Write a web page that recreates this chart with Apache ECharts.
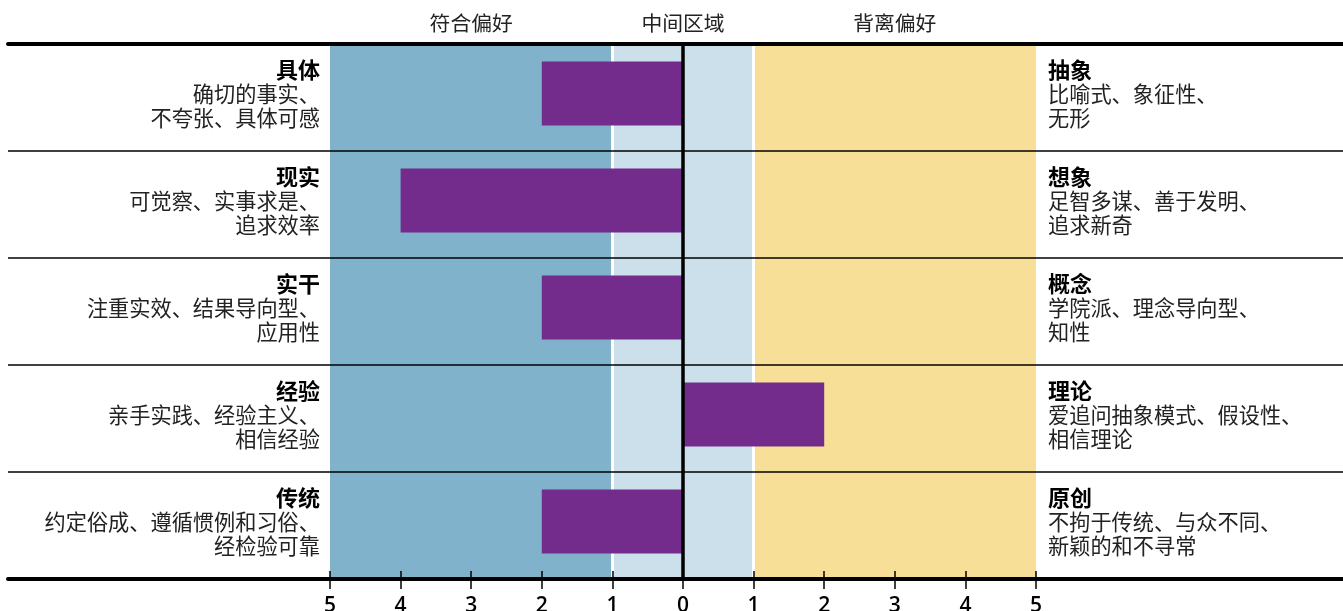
<!DOCTYPE html>
<html>
<head>
<meta charset="utf-8">
<script src="https://cdn.jsdelivr.net/npm/echarts@6/dist/echarts.min.js"></script>
<style>html,body{margin:0;padding:0;background:#fff;}#chart{width:1343px;height:611px;}</style>
</head>
<body>
<div id="chart"></div>
<script>
const categories = ['具体', '现实', '实干', '经验', '传统'];
const leftDesc1 = ['确切的事实、', '可觉察、实事求是、', '注重实效、结果导向型、', '亲手实践、经验主义、', '约定俗成、遵循惯例和习俗、'];
const leftDesc2 = ['不夸张、具体可感', '追求效率', '应用性', '相信经验', '经检验可靠'];
const rightTitles = ['抽象', '想象', '概念', '理论', '原创'];
const rightDesc1 = ['比喻式、象征性、', '足智多谋、善于发明、', '学院派、理念导向型、', '爱追问抽象模式、假设性、', '不拘于传统、与众不同、'];
const rightDesc2 = ['无形', '追求新奇', '知性', '相信理论', '新颖的和不寻常'];
const values = [-2, -4, -2, 2, -2];
const zoneStarts = [-5, -1, 1];
const zoneEnds = [-1, 1, 5];
const zoneColors = ['#80B2CB', '#CCE0EB', '#F8DF97'];
const headerValues = [-3, 0, 3];
const headerTexts = ['符合偏好', '中间区域', '背离偏好'];
const axisMin = -5, axisMax = 5, axisStep = 1;

const CJK = '"Noto Sans CJK SC", "Noto Sans", sans-serif';
const chart = echarts.init(document.getElementById('chart'));

const richStyles = function (align) {
  return {
    t: { fontFamily: CJK, fontSize: 22, fontWeight: 'bold', color: '#000', lineHeight: 24, align: align },
    d: { fontFamily: CJK, fontSize: 21.2, color: '#222', lineHeight: 24, align: align }
  };
};

const hiddenValue = function (grid, pos) {
  return { gridIndex: grid, type: 'value', min: 0, max: 1, position: pos, z: 10,
    axisLine: { show: true, lineStyle: { color: '#000', width: 4 } },
    axisTick: { show: false }, axisLabel: { show: false }, splitLine: { show: false } };
};

chart.setOption({
  animation: false,
  backgroundColor: '#fff',
  grid: [
    { left: 8, right: 0, top: 44, bottom: 32, containLabel: false, outerBoundsMode: 'none' },
    { left: 330, right: 307, top: 44, bottom: 32, containLabel: false, outerBoundsMode: 'none' },
    { left: 330, right: 307, top: 40, bottom: 36, containLabel: false, outerBoundsMode: 'none' }
  ],
  xAxis: [
    hiddenValue(0, 'bottom'),
    hiddenValue(0, 'top'),
    { gridIndex: 1, type: 'value', min: axisMin, max: axisMax, interval: axisStep, position: 'bottom', z: 11,
      axisLine: { show: false },
      axisTick: { show: true, length: 10, lineStyle: { color: '#000', width: 1.5 } },
      axisLabel: { formatter: function (v) { return String(Math.abs(v)); }, fontFamily: '"Open Sans", sans-serif', fontWeight: 600, fontSize: 21, color: '#000', margin: 17 },
      splitLine: { show: false } },
    { gridIndex: 1, type: 'value', min: axisMin, max: axisMax, interval: axisStep, position: 'bottom', z: 11,
      axisLine: { show: false },
      axisTick: { show: true, inside: true, length: 8, lineStyle: { color: '#000', width: 1.5 } },
      axisLabel: { show: false }, splitLine: { show: false } },
    { gridIndex: 1, type: 'value', min: axisMin, max: axisMax, interval: axisStep, position: 'top',
      axisLine: { show: false }, axisTick: { show: false }, splitLine: { show: false },
      axisLabel: { formatter: function (v) { const i = headerValues.indexOf(v); return i >= 0 ? headerTexts[i] : ''; },
        fontFamily: CJK, fontSize: 20.8, color: '#222', margin: 11 } },
    { gridIndex: 2, type: 'value', min: axisMin, max: axisMax, show: false }
  ],
  yAxis: [
    { gridIndex: 0, type: 'category', data: categories, inverse: true, z: 10,
      axisLine: { show: false }, axisTick: { show: false }, axisLabel: { show: false },
      splitLine: { show: true, lineStyle: { color: '#000', width: 1.5 } } },
    { gridIndex: 1, type: 'category', data: categories, inverse: true, show: false },
    { gridIndex: 2, type: 'category', data: categories, inverse: true, position: 'left',
      axisLine: { show: false }, axisTick: { show: false }, splitLine: { show: false },
      axisLabel: { margin: 10, align: 'right',
        formatter: function (v, i) { return '{t|' + v + '}\n{d|' + leftDesc1[i] + '}\n{d|' + leftDesc2[i] + '}'; },
        rich: richStyles('right') } },
    { gridIndex: 2, type: 'category', data: categories, inverse: true, position: 'right',
      axisLine: { show: false }, axisTick: { show: false }, splitLine: { show: false },
      axisLabel: { margin: 12, align: 'left',
        formatter: function (v, i) { return '{t|' + rightTitles[i] + '}\n{d|' + rightDesc1[i] + '}\n{d|' + rightDesc2[i] + '}'; },
        rich: richStyles('left') } }
  ],
  series: [
    { type: 'line', xAxisIndex: 2, yAxisIndex: 1, z: 1, silent: true,
      data: categories.map(function () { return 0; }), showSymbol: false, lineStyle: { opacity: 0 },
      markArea: { silent: true, z: 1,
        data: zoneStarts.map(function (s, i) { return [{ xAxis: s, itemStyle: { color: zoneColors[i] } }, { xAxis: zoneEnds[i] }]; }) },
      markLine: { silent: true, z: 2, symbol: 'none', label: { show: false },
        lineStyle: { color: '#fff', width: 3, type: 'solid' },
        data: [{ xAxis: zoneEnds[0] }, { xAxis: zoneStarts[2] }] } },
    { type: 'bar', xAxisIndex: 5, yAxisIndex: 2, z: 3, barWidth: 64,
      itemStyle: { color: '#732B8C' }, data: values },
    { type: 'line', xAxisIndex: 2, yAxisIndex: 1, z: 5, silent: true,
      data: categories.map(function () { return 0; }), showSymbol: false, lineStyle: { opacity: 0 },
      markLine: { silent: true, z: 6, symbol: 'none', label: { show: false },
        lineStyle: { color: '#000', width: 3.5, type: 'solid' },
        data: [{ xAxis: 0 }] } }
  ]
});
</script>
</body>
</html>
